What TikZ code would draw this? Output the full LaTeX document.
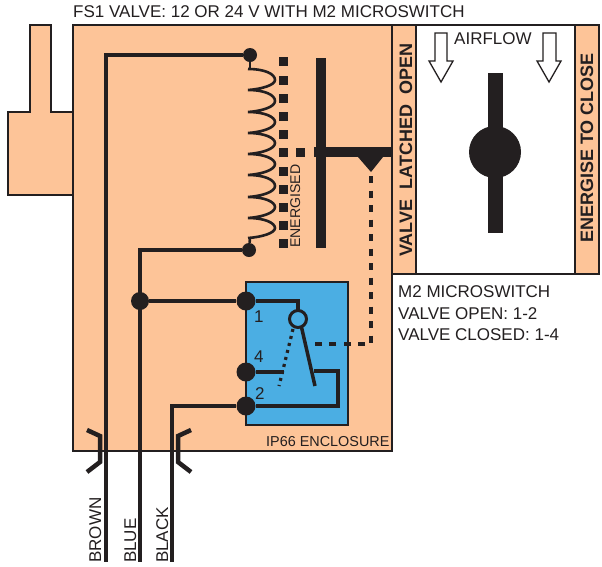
\documentclass[tikz,border=0pt]{standalone}
\usepackage{fontspec}
\setmainfont{Liberation Sans}
\definecolor{peach}{HTML}{FDC498}
\definecolor{encl}{HTML}{4BAEE3}
\definecolor{ink}{HTML}{231F20}
\newcommand{\fsz}[1]{\fontsize{#1}{#1}\selectfont}
\tikzset{
  x=1pt,y=-1pt,
  body/.style={fill=peach,draw=ink,line width=1.6pt},
  wire/.style={draw=ink,line width=3.5pt,line join=miter},
  term/.style={circle,fill=ink,inner sep=0pt,minimum size=#1},
  bar/.style={fill=ink,draw=none},
  sq/.style={rectangle,fill=ink,inner sep=0pt,minimum size=9pt},
  gland/.style={draw=ink,line width=4.5pt,line join=miter},
  lbl/.style={inner sep=0pt,text=ink,anchor=base west},
  vlbl/.style={inner sep=0pt,text=ink,rotate=90,anchor=base west},
  flow/.style={fill=white,draw=ink,line width=1.3pt,line join=miter},
  link/.style={draw=ink,line width=3.5pt,dash pattern=on 7pt off 7.5pt},
}
\begin{document}
\begin{tikzpicture}
\useasboundingbox (0,0) rectangle (602,566);
\fill[white] (0,0) rectangle (602,566);
% valve body
\draw[body] (30,25) -- (51,25) -- (51,112) -- (73,112) -- (73,195) -- (8,195) -- (8,112) -- (30,112) -- cycle;
\draw[body] (73,25) rectangle (392,451);
% right panel
\draw[flow,line width=1.6pt] (392,25) rectangle (599,274);
\draw[body] (392,25) rectangle (416,274);
\draw[body] (575,25) rectangle (599,274);
% valve disc
\fill[bar] (488,73) rectangle (503,233);
\node[circle,fill=ink,inner sep=0pt,minimum size=52pt] (disc) at (495,152) {};
\draw[flow] (435,33) -- (447,33) -- (447,61) -- (453,61) -- (441,82) -- (429,61) -- (435,61) -- cycle;
\draw[flow] (543,33) -- (556,33) -- (556,61) -- (561,61) -- (549,82) -- (537,61) -- (543,61) -- cycle;
% enclosure
\draw[draw=ink,fill=encl,line width=1.3pt] (246,282) rectangle (348,425);
% armature
\fill[bar] (316,58) rectangle (326,248);
\fill[bar] (314,147) rectangle (391,157);
\fill[bar] (358,157) -- (383,157) -- (371,172) -- cycle;
% squares
\foreach \n/\yy in {a/61,b/80,c/98,d/116,e/134,f/152,g/171,h/189,i/207,j/225,k/243}
  \node[sq] (s\n) at (283,\yy) {};
\node[sq] (s0) at (300,152) {};
% terminals
\node[term=14pt] (ctop) at (250,55) {};
\node[term=14pt] (cbot) at (249,250) {};
\node[term=19pt] (t1) at (246,301) {};
\node[term=19pt] (t4) at (246,372) {};
\node[term=19pt] (t2) at (246,406) {};
\node[term=18pt] (tj) at (140,301) {};
% coil
\draw[ink,line width=2.6pt] (ctop) -- (250,69);
\draw[ink,line width=2.6pt] (cbot) -- (250,238);
\draw[ink,line width=2.6pt]
  (248,69) .. controls (265,69) and (275,74) .. (275,80) .. controls (275,85) and (262,89) .. (248,90)
  .. controls (265,90) and (275,95) .. (275,101) .. controls (275,107) and (262,111) .. (248,112)
  .. controls (265,112) and (275,117) .. (275,122) .. controls (275,128) and (262,132) .. (248,133)
  .. controls (265,133) and (275,138) .. (275,143) .. controls (275,149) and (262,153) .. (248,154)
  .. controls (265,154) and (275,159) .. (275,164) .. controls (275,170) and (262,174) .. (248,175)
  .. controls (265,175) and (275,180) .. (275,186) .. controls (275,192) and (262,196) .. (248,197)
  .. controls (265,197) and (275,202) .. (275,207) .. controls (275,213) and (262,217) .. (248,218)
  .. controls (265,218) and (275,223) .. (275,228) .. controls (275,233) and (262,237) .. (248,238);
% wires
\coordinate (brownend) at (106,562);
\coordinate (blueend) at (140,562);
\coordinate (blackend) at (172,562);
\draw[wire] (ctop) -| (brownend);
\draw[wire] (cbot) -| (blueend);
\draw[wire] (t2) -| (blackend);
\draw[wire] (tj) -- (t1);
\coordinate (c1) at (298,301);
\coordinate (c1b) at (298,312);
\draw[wire] (t1) -- (c1) -- (c1b);
\draw[wire] (t4) -- (284,372);
\coordinate (leverend) at (315,386);
\coordinate (leverstart) at (301,325);
\draw[wire] (leverstart) -- (leverend);
\draw[wire] (314,371) -- (338,371) -- (338,406) -- (t2);
\node[circle,draw=ink,line width=3pt,fill=encl,inner sep=0pt,minimum size=17pt] (piv) at (298,319) {};
\draw[draw=ink,line width=3.2pt,dash pattern=on 3pt off 4.2pt] (293,329) -- (279,386);
% linkage
\draw[link] (371,176) -- (371,344) -- (307,344);
% cable glands
\draw[gland] (87,430) -- (100,436) -- (100,462) -- (87,472);
\draw[gland] (191,430) -- (178,436) -- (178,462) -- (191,472);
% text
\node[lbl,font=\fsz{17}] (title) at (73,17) {FS1 VALVE: 12 OR 24 V WITH M2 MICROSWITCH};
\node[lbl,font=\fsz{17}] (airflow) at (454,44) {AIRFLOW};
\node[vlbl,font=\bfseries\fsz{18}] (latched) at (412,257) {VALVE\ \ LATCHED\ \ OPEN};
\node[vlbl,font=\bfseries\fsz{18}] (energise) at (593,243) {ENERGISE TO CLOSE};
\node[lbl,font=\fsz{17}] (m2a) at (398,297) {M2 MICROSWITCH};
\node[lbl,font=\fsz{17}] (m2b) at (398,319) {VALVE OPEN: 1-2};
\node[lbl,font=\fsz{17}] (m2c) at (398,340) {VALVE CLOSED: 1-4};
\node[lbl,font=\fsz{14.4}] (ip) at (266,446) {IP66 ENCLOSURE};
\node[vlbl,font=\fsz{14.1}] (energised) at (300,248) {ENERGISED};
\node[lbl,font=\fsz{17}] (n1) at (254,322) {1};
\node[lbl,font=\fsz{17}] (n4) at (254,362) {4};
\node[lbl,font=\fsz{17}] (n2) at (255,399) {2};
\node[vlbl,font=\fsz{17}] (brown) at (101,563) {BROWN};
\node[vlbl,font=\fsz{17}] (blue) at (136,563) {BLUE};
\node[vlbl,font=\fsz{17}] (black) at (168,563) {BLACK};
\end{tikzpicture}
\end{document}
